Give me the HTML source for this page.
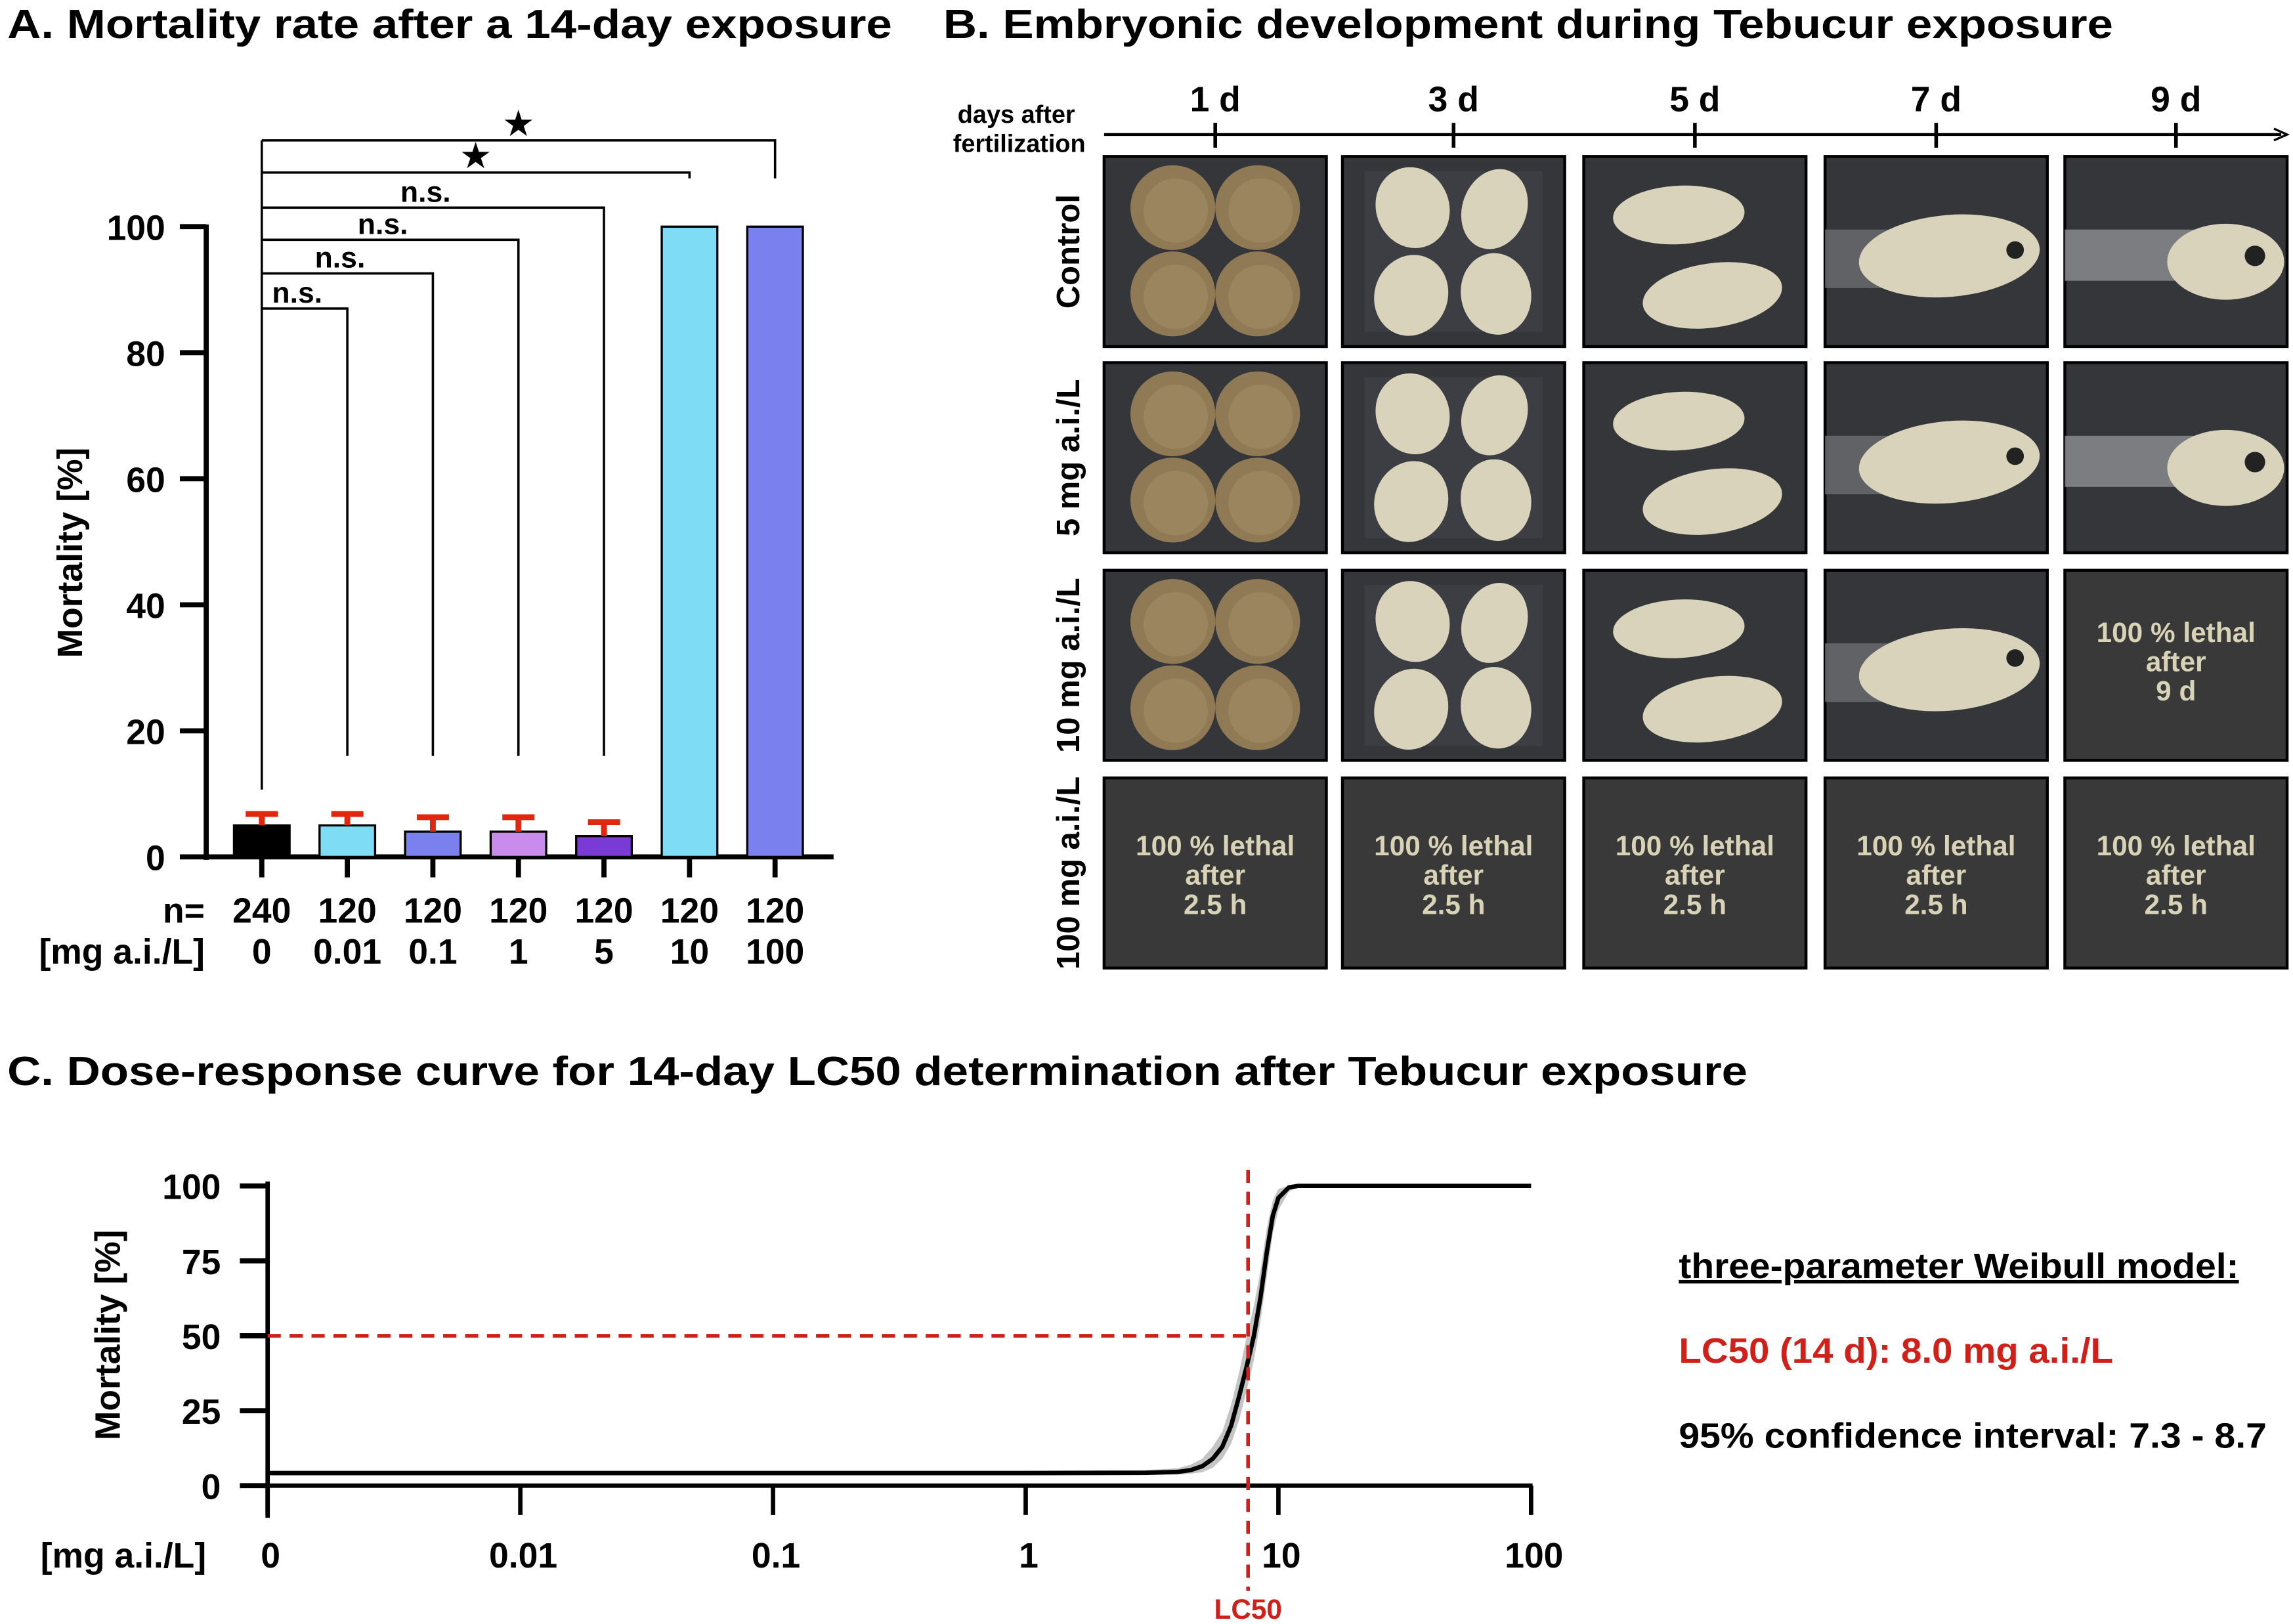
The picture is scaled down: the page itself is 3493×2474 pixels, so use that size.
<!DOCTYPE html>
<html><head><meta charset="utf-8"><style>html,body{margin:0;padding:0;background:#fff}svg{display:block}text{font-family:"Liberation Sans",Arial,sans-serif;font-weight:bold}</style></head>
<body>
<svg id="fig" width="3493" height="2474" viewBox="0 0 1568 1110.6" xmlns="http://www.w3.org/2000/svg">
<rect width="1568" height="1111" fill="#fff"/>
<text x="5" y="26" font-size="28" textLength="605" lengthAdjust="spacingAndGlyphs">A. Mortality rate after a 14-day exposure</text>
<text x="645" y="26" font-size="28" textLength="800" lengthAdjust="spacingAndGlyphs">B.  Embryonic development during Tebucur exposure</text>
<text x="5" y="742" font-size="28" textLength="1190" lengthAdjust="spacingAndGlyphs">C. Dose-response curve for 14-day LC50 determination after Tebucur exposure</text>
<g id="chartA"></g>
<g id="panelB"></g>
<g id="chartC"></g>
</svg>
<script>
const NS="http://www.w3.org/2000/svg";
function mk(parent,tag,attrs,txt){const e=document.createElementNS(NS,tag);for(const k in attrs)e.setAttribute(k,attrs[k]);if(txt!==undefined)e.textContent=txt;parent.appendChild(e);return e;}

// ---------- Panel A data ----------
const aCategories=["0","0.01","0.1","1","5","10","100"];
const aN=["240","120","120","120","120","120","120"];
const aValues=[5,5,4,4,3.3,100,100];
const aErrors=[1.8,1.8,2.3,2.3,2.2,0,0];
const aColors=["#000000","#7fdcf5","#7b80ef","#c98bec","#7a3ad6","#7fdcf5","#7b80ef"];
const aTicks=[0,20,40,60,80,100];
const aSigLabels=["n.s.","n.s.","n.s.","n.s.","★","★"];

const A=document.getElementById('chartA');
const ay=v=>586-v*4.31;
const ax=i=>179+i*58.5;
let l=mk(A,'line',{x1:141,y1:ay(100)-1.5,x2:141,y2:588,stroke:'#000','stroke-width':3.5});


l=mk(A,'line',{x1:139,y1:586,x2:570,y2:586,stroke:'#000','stroke-width':3.5});


aTicks.forEach(t=>{
  mk(A,'line',{x1:123,y1:ay(t),x2:141,y2:ay(t),stroke:'#000','stroke-width':3.5});
  const tx=mk(A,'text',{x:113,y:ay(t)+9,'font-size':24,'text-anchor':'end'},t);
  
  
});
const yt=mk(A,'text',{x:0,y:0,'font-size':24,'text-anchor':'middle',transform:'translate(56,378) rotate(-90)'},'Mortality [%]');


aValues.forEach((v,i)=>{
  const x=ax(i);
  const r=mk(A,'rect',{x:x-19,y:ay(v),width:38,height:586-ay(v),fill:aColors[i],stroke:'#000','stroke-width':1.5});
  
  
  if(aErrors[i]>0){
    const e=mk(A,'path',{d:`M${x},${ay(v)} V${ay(v+aErrors[i])} M${x-11},${ay(v+aErrors[i])} H${x+11}`,stroke:'#e0280e','stroke-width':4,fill:'none'});
    
    
  }
  mk(A,'line',{x1:x,y1:586,x2:x,y2:600,stroke:'#000','stroke-width':3.5});
  const n=mk(A,'text',{x:x,y:631,'font-size':24,'text-anchor':'middle'},aN[i]);
  
  
  const c=mk(A,'text',{x:x,y:659,'font-size':24,'text-anchor':'middle'},aCategories[i]);
  
  
});
let t=mk(A,'text',{x:140,y:631,'font-size':24,'text-anchor':'end'},'n=');


t=mk(A,'text',{x:140,y:659,'font-size':24,'text-anchor':'end'},'[mg a.i./L]');


const brY=[211,187,164,142,118,96];
const brEnd=[517,517,517,517,122,122];
aSigLabels.forEach((s,k)=>{
  const xr=ax(k+1);
  const p=mk(A,'path',{d:`M179,${brY[k]} H${xr} V${brEnd[k]}`,stroke:'#000','stroke-width':1.6,fill:'none'});
  
  
  const lb=mk(A,'text',{x:(179+xr)/2+(k<4?-5:0),y:brY[k]-4,'font-size':s==='★'?22:20,'text-anchor':'middle'},s);
  
  
});
mk(A,'line',{x1:179,y1:96,x2:179,y2:540,stroke:'#000','stroke-width':1.6});

// ---------- Panel B ----------
const B=document.getElementById('panelB');
const bDays=["1 d","3 d","5 d","7 d","9 d"];
const bRows=["Control","5 mg a.i./L","10 mg a.i./L","100 mg a.i./L"];
const colX=[755,918,1083,1248,1412], rowY=[107,248,390,532];
const cx=[831,994,1159,1324,1488];
l=mk(B,'line',{x1:755,y1:92,x2:1560,y2:92,stroke:'#000','stroke-width':2});


mk(B,'path',{d:'M1555,88 L1564,92 L1555,96',stroke:'#000','stroke-width':1.5,fill:'none'});
bDays.forEach((d,i)=>{
  mk(B,'line',{x1:cx[i],y1:84,x2:cx[i],y2:101,stroke:'#000','stroke-width':2.5});
  const tt=mk(B,'text',{x:cx[i],y:76,'font-size':24,'text-anchor':'middle'},d);
  
  
});
t=mk(B,'text',{x:695,y:84,'font-size':17,'text-anchor':'middle'},'days after');


mk(B,'text',{x:697,y:104,'font-size':17,'text-anchor':'middle'},'fertilization');
bRows.forEach((r,j)=>{
  const tt=mk(B,'text',{x:0,y:0,'font-size':22,'text-anchor':'middle',transform:`translate(738,${rowY[j]+65}) rotate(-90)`},r);
  
  
});
function egg(g,x,y){mk(g,'ellipse',{cx:x,cy:y,rx:29,ry:29,fill:'#8f7a55'});mk(g,'ellipse',{cx:x+2,cy:y+2,rx:22,ry:22,fill:'#a08a62',opacity:.7});}
function emb(g,x,y,rx,ry,rot){mk(g,'ellipse',{cx:x,cy:y,rx:rx,ry:ry,fill:'#d9d3bb',transform:`rotate(${rot} ${x} ${y})`});}
for(let j=0;j<4;j++)for(let i=0;i<5;i++){
  const g=mk(B,'g',{});
  
  
  const x=colX[i],y=rowY[j];
  const isLethal=(j===3)||(j===2&&i===4);
  mk(g,'rect',{x:x,y:y,width:152,height:130,fill:isLethal?'#393939':'#34363a',stroke:'#000','stroke-width':2});
  if(isLethal){
    const lines=j===3?["100 % lethal","after","2.5 h"]:["100 % lethal","after","9 d"];
    lines.forEach((s,k)=>{const tt=mk(g,'text',{x:x+76,y:y+(j===3?53:49)+k*20,'font-size':19,'text-anchor':'middle',fill:'#d8d3b6'},s);
      
      });
    continue;
  }
  if(i===0){egg(g,x+47,y+35);egg(g,x+105,y+35);egg(g,x+47,y+94);egg(g,x+105,y+94);}
  else if(i===1){mk(g,'rect',{x:x+15,y:y+10,width:122,height:110,fill:'#3c3e43'});emb(g,x+48,y+35,25,28,-20);emb(g,x+104,y+36,22,28,20);emb(g,x+47,y+95,25,28,20);emb(g,x+105,y+94,24,28,-10);}
  else if(i===2){emb(g,x+65,y+40,45,20,-3);emb(g,x+88,y+95,48,22,-8);}
  else if(i===3){mk(g,'rect',{x:x,y:y+50,width:60,height:40,fill:'#6c6e72',opacity:.8});emb(g,x+85,y+68,62,28,-5);mk(g,'circle',{cx:x+130,cy:y+(j===2?60:64),r:6,fill:'#222'});}
  else {mk(g,'rect',{x:x,y:y+50,width:90,height:35,fill:'#8e9094',opacity:.8});emb(g,x+110,y+72,40,26,0);mk(g,'circle',{cx:x+130,cy:y+68,r:7,fill:'#222'});}
}

// ---------- Panel C data ----------
const cXTickLabels=["0","0.01","0.1","1","10","100"];
const cXTickValues=[0.001,0.01,0.1,1,10,100];
const cYTicks=[0,25,50,75,100];
const curveDose=[0.001,1,3,4,4.5,5,5.5,6,6.5,7,7.5,8,8.5,9,9.5,10,11,12,100];
const curveMort=[4.2,4.2,4.3,4.6,5.2,6.5,9,13,20,30,40,50,63,78,90,96,99.5,100,100];
const ciLow=[3.4,3.4,3.5,3.7,4,4.5,6,9,14,22,32,42,55,70,84,92,98,100,100];
const ciHigh=[5,5,5.2,5.8,7,9,13,18,27,38,50,60,72,86,95,99,100,100,100];
const lc50=8.0;
const C=document.getElementById('chartC');
const cxs=v=>183+(Math.log10(v)+3)*172.8;
const cys=v=>1016-v*2.05;
let band='M'+curveDose.map((d,i)=>cxs(d)+','+cys(ciHigh[i])).join(' L')+' L'+curveDose.map((d,i)=>cxs(d)+','+cys(ciLow[i])).reverse().join(' L')+'Z';
let p=mk(C,'path',{d:band,fill:'#c4c4c4'});


p=mk(C,'path',{d:'M'+curveDose.map((d,i)=>cxs(d)+','+cys(curveMort[i])).join(' L'),stroke:'#000','stroke-width':3,fill:'none'});


l=mk(C,'line',{x1:183,y1:cys(100)-3,x2:183,y2:1038,stroke:'#000','stroke-width':3});


l=mk(C,'line',{x1:181,y1:1016,x2:1048,y2:1016,stroke:'#000','stroke-width':3});


cYTicks.forEach(v=>{mk(C,'line',{x1:164,y1:cys(v),x2:183,y2:cys(v),stroke:'#000','stroke-width':3.5});
  const tt=mk(C,'text',{x:151,y:cys(v)+9,'font-size':24,'text-anchor':'end'},v);
  
  });
cXTickValues.forEach((v,i)=>{const x=cxs(v);mk(C,'line',{x1:x,y1:1016,x2:x,y2:1036,stroke:'#000','stroke-width':3});
  const tt=mk(C,'text',{x:x+2,y:1072,'font-size':24,'text-anchor':'middle'},cXTickLabels[i]);
  
  });
t=mk(C,'text',{x:141,y:1072,'font-size':24,'text-anchor':'end'},'[mg a.i./L]');


t=mk(C,'text',{x:0,y:0,'font-size':24,'text-anchor':'middle',transform:'translate(82,913) rotate(-90)'},'Mortality [%]');


const lx=cxs(lc50)-4;
l=mk(C,'line',{x1:lx,y1:800,x2:lx,y2:1088,stroke:'#d0201a','stroke-width':2.5,'stroke-dasharray':'9,6'});


l=mk(C,'line',{x1:183,y1:cys(50),x2:lx,y2:cys(50),stroke:'#d0201a','stroke-width':2.5,'stroke-dasharray':'9,6'});


t=mk(C,'text',{x:lx,y:1107,'font-size':19,'text-anchor':'middle',fill:'#d0201a'},'LC50');


t=mk(C,'text',{x:1148,y:874,'font-size':24,'text-decoration':'underline',textLength:383,lengthAdjust:'spacingAndGlyphs'},'three-parameter Weibull model:');


t=mk(C,'text',{x:1148,y:932,'font-size':24,fill:'#d0201a',textLength:297,lengthAdjust:'spacingAndGlyphs'},'LC50 (14 d): 8.0 mg a.i./L');


t=mk(C,'text',{x:1148,y:990,'font-size':24,textLength:402,lengthAdjust:'spacingAndGlyphs'},'95% confidence interval: 7.3 - 8.7');


</script>
</body></html>
